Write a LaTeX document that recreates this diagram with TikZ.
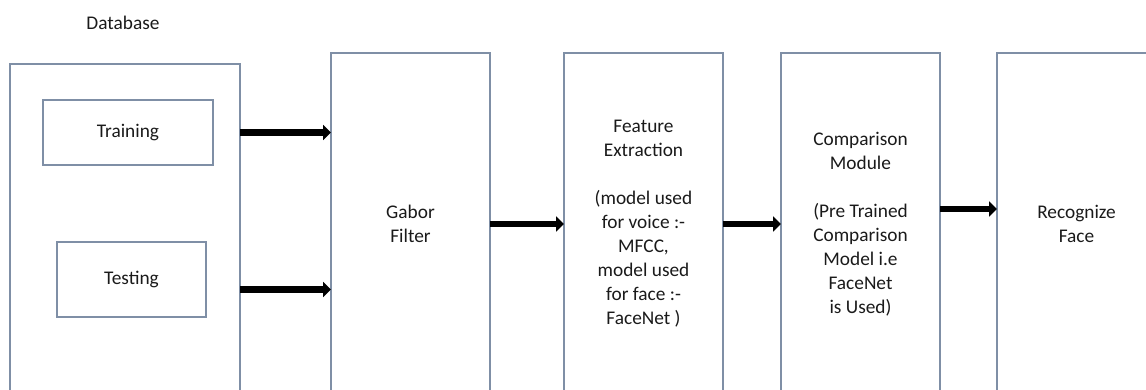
\documentclass[tikz,border=0pt]{standalone}
\usepackage{fontspec}
\setmainfont{Carlito}
\usetikzlibrary{arrows.meta, positioning, calc}
\definecolor{boxedge}{HTML}{7F8FA6}
\definecolor{labeltext}{HTML}{1A1A1A}

\begin{document}
\begin{tikzpicture}[
  stage/.style={draw=boxedge, line width=0.6pt, minimum width=3.18cm, minimum height=6.84cm, align=center, inner sep=0pt, outer sep=0pt, font=\fontsize{11}{13.66}\selectfont, text=labeltext},
  part/.style={draw=boxedge, line width=0.6pt, outer sep=0pt, font=\fontsize{11}{13.66}\selectfont, text=labeltext},
  flow/.style={-{Triangle[length=4.5pt, width=8.5pt]}, line width=3.8pt}
]
  \useasboundingbox (0,0) rectangle (22.92,-7.8);

  % database side
  \node[font=\fontsize{11}{13.66}\selectfont, text=labeltext] (dblabel) at (2.46,-0.46) {Database};
  \node[part, minimum width=4.6cm, minimum height=6.62cm] (db) at (2.5,-4.59) {};
  \node[part, minimum width=3.4cm, minimum height=1.3cm] (train) at (2.56,-2.65) {Training};
  \node[part, minimum width=2.98cm, minimum height=1.5cm] (test) at (2.63,-5.59) {Testing};

  % processing stages
  \node[stage] (gabor) at (8.21,-4.48) {Gabor\\Filter};
  \node[stage, right=1.48cm of gabor] (feat) {Feature\\Extraction\\~\\(model used\\for voice :-\\MFCC,\\model used\\for face :-\\FaceNet )};
  \node[stage, right=1.16cm of feat] (comp) {Comparison\\Module\\~\\(Pre Trained\\Comparison\\Model i.e\\FaceNet\\is Used)};
  \node[stage, right=1.14cm of comp] (recog) {Recognize\\Face};

  \draw[flow] (db.east |- train) -- (gabor.west |- train);
  \draw[flow] ($(db.east |- test)+(0,-0.2)$) -- ($(gabor.west |- test)+(0,-0.2)$);
  \draw[flow] (gabor) -- (feat);
  \draw[flow] (feat) -- (comp);
  \draw[flow] ($(comp.east)+(0,0.3)$) -- ($(recog.west)+(0,0.3)$);
\end{tikzpicture}
\end{document}
